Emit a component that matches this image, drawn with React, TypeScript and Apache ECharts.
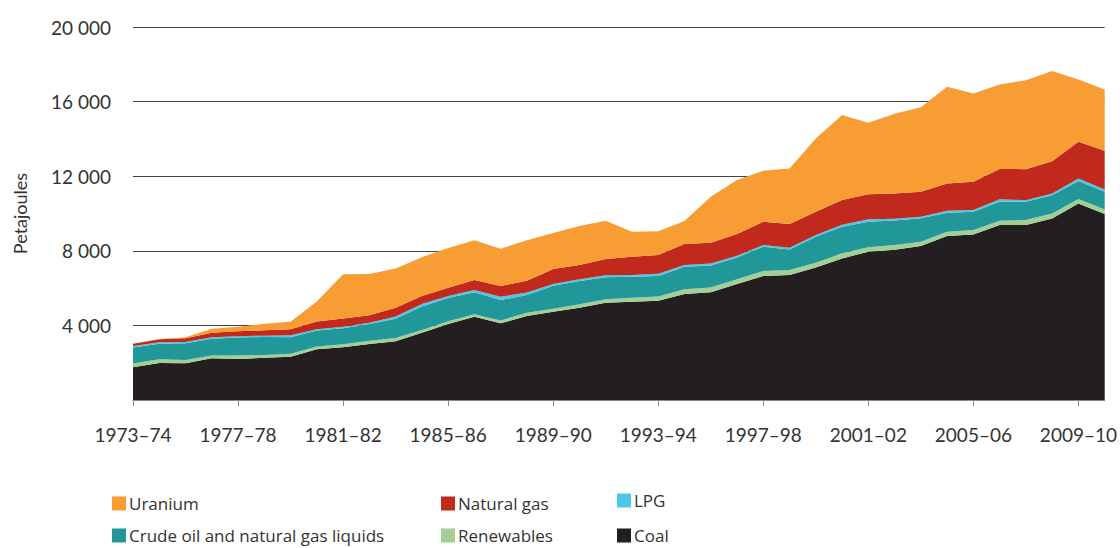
import React, { useEffect, useRef } from "react";
import * as echarts from "echarts";

const categories: string[] = [
  "1973–74", "1974–75", "1975–76", "1976–77", "1977–78", "1978–79", "1979–80", "1980–81",
  "1981–82", "1982–83", "1983–84", "1984–85", "1985–86", "1986–87", "1987–88", "1988–89",
  "1989–90", "1990–91", "1991–92", "1992–93", "1993–94", "1994–95", "1995–96", "1996–97",
  "1997–98", "1998–99", "1999–00", "2000–01", "2001–02", "2002–03", "2003–04", "2004–05",
  "2005–06", "2006–07", "2007–08", "2008–09", "2009–10", "2010–11",
];

const coal: number[] = [
  1753, 1983, 1967, 2235, 2198, 2267, 2321, 2717, 2825, 3002, 3150, 3608, 4074, 4467, 4109, 4502,
  4735, 4949, 5217, 5270, 5324, 5682, 5771, 6218, 6646, 6700, 7111, 7593, 7951, 8060, 8254, 8790,
  8880, 9380, 9380, 9737, 10541, 9970,
];
const renewables: number[] = [
  210, 200, 180, 150, 190, 150, 160, 150, 170, 175, 180, 150, 145, 130, 160, 175, 160, 180, 180, 210,
  225, 250, 265, 250, 265, 265, 250, 270, 235, 250, 235, 235, 235, 235, 265, 265, 235, 250,
];
const crudeOil: number[] = [
  858, 838, 895, 895, 965, 965, 879, 857, 857, 896, 1020, 1249, 1250, 1179, 1090, 947, 1232, 1252,
  1179, 1127, 1105, 1216, 1179, 1179, 1305, 1108, 1394, 1428, 1376, 1312, 1252, 1018, 983, 1018,
  982, 983, 964, 947,
];
const lpg: number[] = [
  69, 75, 70, 86, 69, 69, 107, 76, 70, 69, 130, 145, 107, 125, 179, 143, 90, 90, 108, 89, 110, 89,
  107, 89, 89, 89, 89, 108, 124, 100, 90, 107, 89, 126, 90, 89, 143, 124,
];
const naturalGas: number[] = [
  124, 160, 198, 236, 268, 284, 322, 407, 450, 397, 470, 428, 445, 536, 571, 625, 804, 767, 875,
  983, 1007, 1126, 1108, 1161, 1251, 1269, 1251, 1322, 1341, 1357, 1340, 1465, 1519, 1626, 1662,
  1733, 1964, 2071,
];
const uranium: number[] = [
  0, 17, 54, 215, 231, 360, 407, 1072, 2375, 2214, 2100, 2074, 2128, 2126, 2002, 2180, 1929, 2090,
  2053, 1339, 1278, 1232, 2466, 2894, 2733, 2983, 3933, 4556, 3841, 4273, 4521, 5181, 4734, 4538,
  4770, 4840, 3342, 3290,
];

const yTicks: number[] = [0, 4000, 8000, 12000, 16000, 20000];

const FONT = "Lato, 'Open Sans', sans-serif";
const LEGEND_FONT = "'Open Sans', Lato, sans-serif";
const TEXT = "#333333";

const seriesDefs = [
  { name: "Coal", data: coal, color: "#231F20" },
  { name: "Renewables", data: renewables, color: "#A3CF95" },
  { name: "Crude oil and natural gas liquids", data: crudeOil, color: "#21979A" },
  { name: "LPG", data: lpg, color: "#4DC6E8" },
  { name: "Natural gas", data: naturalGas, color: "#C0291B" },
  { name: "Uranium", data: uranium, color: "#F79D34" },
];

const legendLayout = [
  { name: "Uranium", left: 112, top: 495 },
  { name: "Natural gas", left: 441, top: 495 },
  { name: "LPG", left: 617, top: 492 },
  { name: "Crude oil and natural gas liquids", left: 112, top: 527 },
  { name: "Renewables", left: 441, top: 527 },
  { name: "Coal", left: 617, top: 527 },
];

function fmt(v: number): string {
  if (v === 0) return "";
  const s = String(Math.round(v));
  return s.replace(/\B(?=(\d{3})+(?!\d))/g, " ");
}

export default function App() {
  const ref = useRef<HTMLDivElement>(null);

  useEffect(() => {
    if (!ref.current) return;
    const chart = echarts.init(ref.current, undefined, { renderer: "svg" });
    chart.setOption({
      animation: false,
      backgroundColor: "#ffffff",
      textStyle: { fontFamily: FONT },
      grid: { left: 133, right: 13, top: 27, bottom: 148, containLabel: false },
      legend: legendLayout.map((l) => ({
        data: [l.name],
        left: l.left,
        top: l.top,
        padding: 0,
        itemGap: 0,
        itemWidth: 14,
        itemHeight: 14,
        icon: "rect",
        selectedMode: false,
        textStyle: { fontFamily: LEGEND_FONT, fontSize: 17, color: TEXT, padding: [0, 0, 0, -2] },
      })),
      xAxis: {
        type: "category",
        data: categories,
        boundaryGap: false,
        axisLine: { show: true, lineStyle: { color: "#8a8a8a", width: 1 } },
        axisTick: { show: true, interval: 3, length: 6, lineStyle: { color: "#8a8a8a" } },
        axisLabel: {
          interval: 3,
          margin: 25,
          fontFamily: FONT,
          fontSize: 19,
          color: TEXT,
        },
        splitLine: { show: false },
      },
      yAxis: {
        type: "value",
        min: yTicks[0],
        max: yTicks[yTicks.length - 1],
        interval: 4000,
        axisLine: { show: false },
        axisTick: { show: false },
        axisLabel: {
          margin: 22,
          fontFamily: FONT,
          fontSize: 19,
          color: TEXT,
          formatter: (v: number) => fmt(v),
        },
        splitLine: { show: true, lineStyle: { color: "#444444", width: 1 } },
        name: "Petajoules",
        nameLocation: "middle",
        nameGap: 104,
        nameRotate: 90,
        nameTextStyle: { fontFamily: FONT, fontSize: 18, color: TEXT },
      },
      series: seriesDefs.map((s) => ({
        name: s.name,
        type: "line",
        stack: "total",
        data: s.data,
        showSymbol: false,
        symbol: "none",
        lineStyle: { width: 0 },
        itemStyle: { color: s.color },
        areaStyle: { color: s.color, opacity: 1 },
        emphasis: { disabled: true },
      })),
    });
    return () => chart.dispose();
  }, []);

  return (
    <div
      ref={ref}
      style={{ width: 1120, height: 548, position: "absolute", left: 0, top: 0 }}
    />
  );
}
